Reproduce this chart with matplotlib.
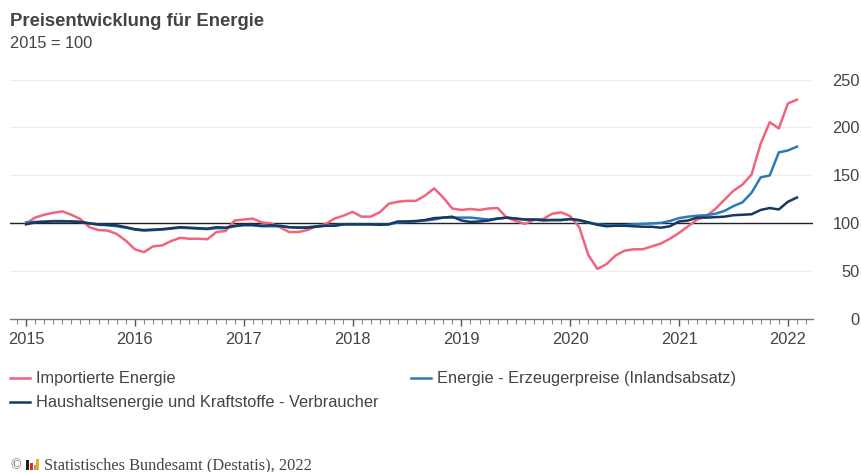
import numpy as np
import matplotlib.pyplot as plt
from matplotlib.lines import Line2D
from matplotlib.patches import Rectangle

# Monatswerte Jan 2015 - Feb 2022
importe = [100, 106, 109, 111, 112.5, 109, 104.5, 96, 93, 92.5, 89, 82,
           73, 70, 76, 77, 81.5, 85, 84, 84, 83.5, 91, 92, 103,
           104, 105, 101, 100, 96, 91, 91, 93, 97, 99, 105, 108,
           112, 107, 107, 111.5, 120.5, 122.5, 123.5, 123.5, 129, 136.5, 127, 115.5,
           114, 115, 114, 115.5, 116, 106, 102.5, 99.5, 103.5, 104.5, 110, 111.5,
           107.5, 96, 67, 52.5, 57.5, 66.5, 71.5, 73, 73, 76, 79, 84,
           90, 97, 104, 107.5, 115, 124.5, 134, 140.5, 151, 183, 205.5, 199,
           225, 229]
erzeuger = [101, 101.5, 102, 102.5, 102.5, 102, 101.5, 100, 98.5, 98, 97, 95.5,
            93.5, 92.5, 93, 93.5, 94.5, 95.5, 95, 94.5, 94, 95, 95, 97,
            98, 98, 97, 97, 97, 96, 96, 96, 97, 97.5, 98, 99,
            99, 99, 99, 98.5, 99, 101, 101.5, 102, 103, 104, 106, 106,
            106, 106, 105, 104, 105, 106, 105, 104, 104, 103, 103.5, 103.5,
            104.5, 103, 101, 99, 98, 98, 98, 99, 99.5, 100, 100.5, 102.5,
            105.5, 107, 108, 108.5, 110, 113, 118, 122, 132, 148, 150, 174,
            176, 180]
haushalt = [99, 101, 101.5, 102, 102, 102, 101.5, 100, 99, 98.5, 98, 96,
            94, 93, 93.5, 94, 95, 96, 95.5, 95, 94.5, 96, 95.5, 97.5,
            98.5, 98.5, 97.5, 98, 97.5, 96, 95.5, 95.5, 96.5, 97.5, 97.5, 99,
            99, 99, 99, 98.5, 99, 102, 102, 102.5, 103.5, 105.5, 106, 107,
            103, 101.5, 102, 103, 105, 106, 105, 104, 104, 103.5, 103.5, 103.5,
            104.5, 103.5, 101, 98.5, 97, 97.5, 97.5, 97, 96.5, 96.5, 95.5, 97,
            102, 103, 106, 106, 106.5, 107, 108.5, 109, 109.5, 114, 116, 114.5,
            122.5, 127]
jahre = ['2015', '2016', '2017', '2018', '2019', '2020', '2021', '2022']
y_ticks = [0, 50, 100, 150, 200, 250]

W, H = 861, 472
plt.rcParams['font.family'] = ['Liberation Sans', 'DejaVu Sans']
fig = plt.figure(figsize=(W / 100, H / 100), dpi=100)

# Achse in Pixeln platziert
ax = fig.add_axes([10 / W, 1 - 319.3 / H, 802.7 / W, 239.8 / H])
monat = np.arange(len(haushalt))
ax.set_xlim(-16 / 9.07, 786.7 / 9.07)
ax.set_ylim(0, 250)

for s in ['top', 'left', 'right']:
    ax.spines[s].set_visible(False)
ax.spines['bottom'].set_color('#777777')
ax.spines['bottom'].set_linewidth(1)

for v in y_ticks[1:]:
    if v == 100:
        ax.axhline(v, color='#222222', lw=1, zorder=1)
    else:
        ax.axhline(v, color='#eeeeee', lw=1, zorder=1)

ax.plot(monat, importe, color='#f0647c', lw=1.8, zorder=3)
ax.plot(monat, erzeuger, color='#2b7bba', lw=1.8, zorder=4)
ax.plot(monat, haushalt, color='#17395f', lw=1.8, zorder=5)

ax.set_xticks(np.arange(len(jahre)) * 12)
ax.set_xticklabels(jahre, fontsize=11.8, color='#444444')
ax.set_xticks(np.arange(-1, 87), minor=True)
ax.tick_params(axis='x', which='major', length=5, width=1, color='#555555', pad=4)
ax.tick_params(axis='x', which='minor', length=3.5, width=0.8, color='#888888')

ax.yaxis.tick_right()
ax.set_yticks(y_ticks)
ax.set_yticklabels([str(v) for v in y_ticks], fontsize=11.8, color='#444444', ha='right')
ax.tick_params(axis='y', length=0, pad=34)

# Titel
fig.text(10 / W, 1 - 21.5 / H, 'Preisentwicklung für Energie', fontsize=13.3, fontweight='bold',
         color='#444444', va='center')
fig.text(10 / W, 1 - 44 / H, '2015 = 100', fontsize=11.8, color='#444444', va='center')

# Legende
eintraege = [(10, 378, '#f0647c', 'Importierte Energie'),
             (411, 378, '#2b7bba', 'Energie - Erzeugerpreise (Inlandsabsatz)'),
             (10, 402, '#17395f', 'Haushaltsenergie und Kraftstoffe - Verbraucher')]
for x0, y0, farbe, name in eintraege:
    fig.add_artist(Line2D([x0 / W, (x0 + 20) / W], [1 - y0 / H, 1 - y0 / H], color=farbe, lw=1.8))
    fig.text((x0 + 26) / W, 1 - (y0 + 1) / H, name, fontsize=11.8, color='#444444', va='center')

# Quelle mit kleinem Logo
fig.text(10 / W, 1 - 466 / H, '©', fontsize=10, family='Liberation Serif', color='#555555', va='center')
logo = [(26, 460, 3, 10, '#222222'), (30, 463, 3, 7, '#d0302a'), (33.5, 465, 2, 5, '#999999'), (36, 459, 3, 11, '#e8b020')]
for x0, y0, b, h, farbe in logo:
    fig.add_artist(Rectangle((x0 / W, 1 - (y0 + h) / H), b / W, h / H, transform=fig.transFigure,
                             facecolor=farbe, edgecolor='none'))
fig.text(44 / W, 1 - 465 / H, 'Statistisches Bundesamt (Destatis), 2022', fontsize=11.8,
         family='Liberation Serif', color='#444444', va='center')

fig.savefig('out.png', dpi=100)
plt.close()
